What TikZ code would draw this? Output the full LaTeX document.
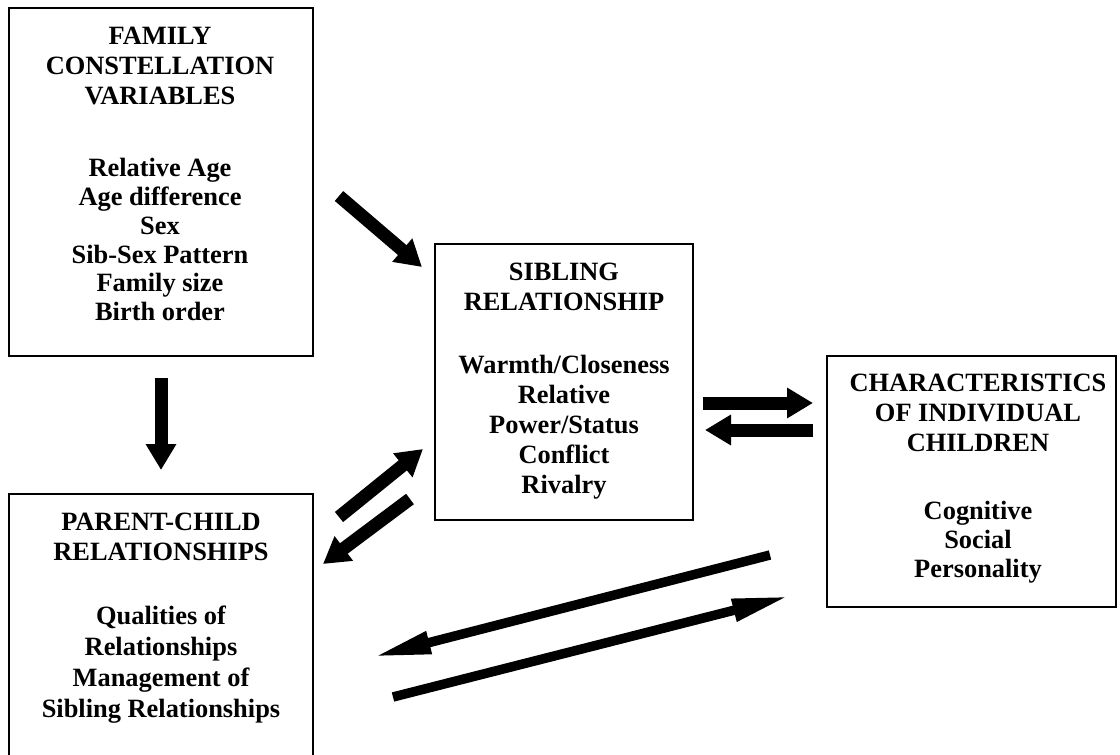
\documentclass[tikz,border=0pt]{standalone}
\usepackage{fontspec}
\setmainfont{Liberation Serif}
\usetikzlibrary{arrows.meta}
\tikzset{
  box/.style={draw, line width=1pt, inner sep=0pt},
  txt/.style={anchor=north, inner sep=0pt, align=center,
    font=\bfseries\fontsize{13.2pt}{#1}\selectfont},
  txt/.default=15pt,
  fat/.style={line width=6.5pt, -{Triangle[length=13pt,width=14.5pt]}},
  slim/.style={line width=4.75pt, -{Triangle[length=29pt,width=10.5pt]}}
}
\begin{document}
\begin{tikzpicture}[x=0.5pt,y=-0.5pt]
\useasboundingbox (0,0) rectangle (1120,755);
\clip (0,0) rectangle (1120,755);
% boxes
\node[box, minimum width=152pt, minimum height=174pt] (fam) at (161,182) {};
\node[box, minimum width=129pt, minimum height=138pt] (sib) at (564,382) {};
\node[box, minimum width=144.5pt, minimum height=125.5pt] (chr) at (971.5,481.5) {};
\node[box, minimum width=152pt, minimum height=138pt] (par) at (161,632) {};
% texts
\node[txt] (famt) at (160,27) {FAMILY\\CONSTELLATION\\VARIABLES};
\node[txt=14.4pt] (famb) at (160,158) {Relative Age\\Age difference\\Sex\\Sib-Sex Pattern\\Family size\\Birth order};
\node[txt] (sibt) at (564,263) {SIBLING\\RELATIONSHIP};
\node[txt] (sibb) at (564,355) {Warmth/Closeness\\Relative\\Power/Status\\Conflict\\Rivalry};
\node[txt] (chrt) at (978,374) {CHARACTERISTICS\\OF INDIVIDUAL\\CHILDREN};
\node[txt=14.5pt] (chrb) at (978,501) {Cognitive\\Social\\Personality};
\node[txt] (part) at (161,513) {PARENT-CHILD\\RELATIONSHIPS};
\node[txt=15.5pt] (parb) at (161,606) {Qualities of\\Relationships\\Management of\\Sibling Relationships};
% arrow end points
\coordinate (fs1) at (339,196);  \coordinate (fs2) at (422,267);
\coordinate (fp1) at (161,378);  \coordinate (fp2) at (161,470);
\coordinate (ps1) at (339,517);  \coordinate (ps2) at (423,449);
\coordinate (sp1) at (410,499);  \coordinate (sp2) at (323,564);
\coordinate (sc1) at (703,403);  \coordinate (sc2) at (813,403);
\coordinate (cs1) at (813,430);  \coordinate (cs2) at (705,430);
\coordinate (cp1) at (770,555);  \coordinate (cp2) at (373,657);
\coordinate (pc1) at (393,697);  \coordinate (pc2) at (790,596);
% arrows
\draw[fat] (fs1) -- (fs2);
\draw[fat] (fp1) -- (fp2);
\draw[fat] (ps1) -- (ps2);
\draw[fat] (sp1) -- (sp2);
\draw[fat] (sc1) -- (sc2);
\draw[fat] (cs1) -- (cs2);
\draw[slim] (cp1) -- (cp2);
\draw[slim] (pc1) -- (pc2);
\end{tikzpicture}
\end{document}
